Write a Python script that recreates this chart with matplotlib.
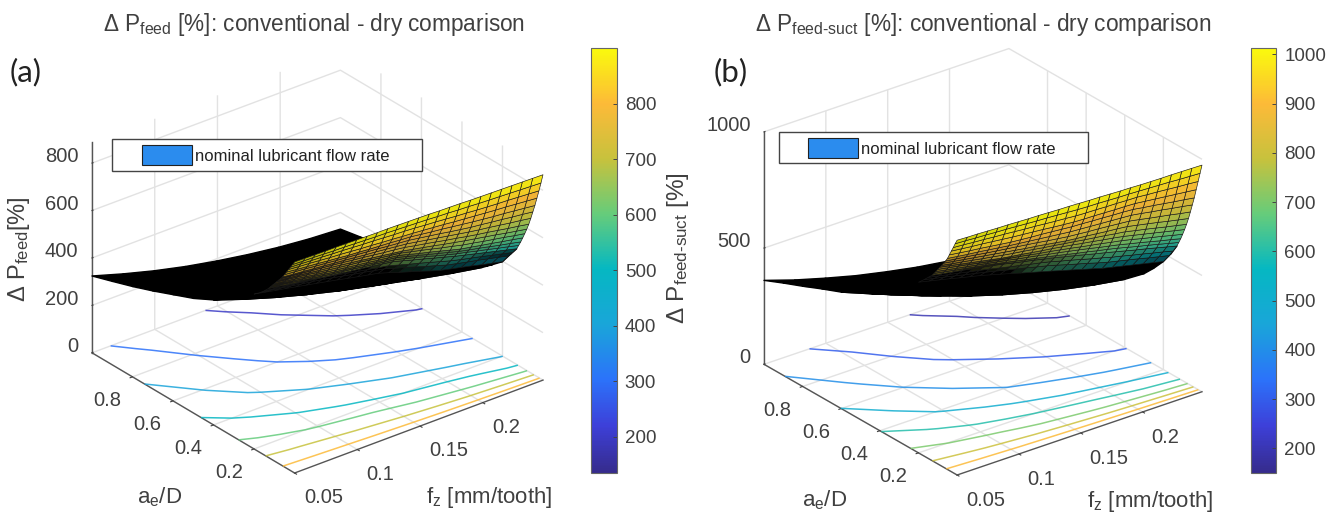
import numpy as np
import matplotlib
matplotlib.use("Agg")
import matplotlib.pyplot as plt
from matplotlib.colors import LinearSegmentedColormap, Normalize
from matplotlib.cm import ScalarMappable
from matplotlib.patches import Patch, Rectangle
from mpl_toolkits.mplot3d import proj3d

plt.rcParams['font.family'] = ['Liberation Sans', 'DejaVu Sans']
plt.rcParams['mathtext.fontset'] = 'custom'
plt.rcParams['mathtext.rm'] = 'Liberation Sans'
plt.rcParams['mathtext.default'] = 'regular'

# ---------- data ----------
fz_wall = [0.05, 0.05825, 0.0665, 0.07475, 0.083, 0.09125, 0.0995, 0.10775, 0.116, 0.12425, 0.1325, 0.14075, 0.149,
           0.15725, 0.1655, 0.17375, 0.182, 0.19025, 0.1985, 0.20675, 0.215, 0.22325, 0.2315, 0.23975, 0.248]
fz_coarse = [0.05, 0.07475, 0.0995, 0.12425, 0.149, 0.17375, 0.1985, 0.22325, 0.248]
ae_wall = [0.0, 0.01, 0.02, 0.03, 0.04, 0.05, 0.06, 0.07, 0.08, 0.09, 0.10, 0.11, 0.12, 0.13, 0.15, 0.17, 0.20]
ae_near = [0.0, 0.02, 0.04, 0.06, 0.08, 0.10]
ae_far = [0.13, 0.16, 0.20, 0.25, 0.30, 0.40, 0.50, 0.60, 0.70, 0.80, 0.90, 1.0]

pfeed_wall = [
 [890,889,888,887,887,886,885,884,883,883,882,881,880,879,877,876,875,873,872,871,870,869,868,867,866],
 [874,872,871,869,867,866,864,862,860,859,857,855,853,851,848,846,843,841,838,836,834,832,830,828,826],
 [858,856,853,851,848,846,843,840,838,835,832,830,827,823,820,816,812,809,805,802,799,797,794,791,788],
 [843,839,836,832,828,825,821,817,814,810,807,803,800,796,792,788,783,779,775,771,767,764,760,756,752],
 [827,822,818,814,809,805,800,797,793,790,787,783,780,774,768,763,757,751,745,740,735,731,726,721,716],
 [811,807,803,798,794,789,785,781,777,773,768,764,760,753,746,739,731,724,717,712,706,701,695,690,684],
 [796,791,787,782,778,773,769,764,759,755,750,745,740,732,724,716,708,700,692,685,679,672,665,659,652],
 [784,779,774,769,764,759,754,748,743,737,731,726,720,711,703,694,685,677,668,660,653,645,637,630,622],
 [772,766,761,755,749,744,738,732,726,719,713,706,700,691,682,673,663,654,645,637,629,621,612,604,596],
 [760,754,748,742,735,729,723,717,712,705,698,692,686,675,665,654,643,633,622,614,605,597,589,580,572],
 [748,741,735,728,721,715,708,702,696,690,683,677,671,659,647,636,624,612,600,592,583,575,566,558,549],
 [736,729,722,715,708,701,694,688,682,676,669,663,657,645,633,621,609,597,585,575,566,556,546,537,527],
 [724,717,710,702,695,688,681,675,669,662,656,649,643,631,619,607,594,582,570,560,549,539,528,518,507],
 [712,705,697,690,683,675,668,662,655,649,642,636,629,617,604,592,579,567,554,543,532,521,510,499,488],
 [692,686,679,673,666,660,653,645,636,627,619,610,602,589,576,564,551,538,525,514,504,494,483,473,462],
 [675,668,661,654,646,639,632,623,614,605,597,588,579,565,552,538,524,511,497,487,477,468,458,448,438],
 [653,644,635,627,618,609,600,591,582,572,563,554,545,531,516,502,488,473,459,449,439,429,418,408,398],
]
pfeed_near = [
 [890,887,884,881,878,875,872,869,866],
 [858,851,844,836,827,818,809,799,788],
 [827,818,808,796,783,768,752,735,716],
 [796,784,771,756,738,720,699,676,652],
 [772,758,741,723,702,679,653,626,596],
 [748,732,713,692,668,642,614,584,549],
]
pfeed_far = [
 [712,694,673,649,622,593,561,526,488],
 [683,663,640,615,587,556,524,488,450],
 [653,621,589,557,525,494,462,430,398],
 [617,579,543,509,476,444,415,386,360],
 [584,543,504,468,434,403,374,347,323],
 [527,481,440,403,369,339,313,292,274],
 [483,433,389,350,316,288,265,248,236],
 [448,397,352,312,278,249,227,210,198],
 [413,365,322,285,253,226,205,190,180],
 [381,336,296,261,231,206,187,172,163],
 [352,310,272,239,211,188,169,156,147],
 [324,284,248,217,191,169,151,138,130],
]
psuct_wall = [
 [1010,1008,1007,1005,1003,1002,1000,998,997,995,993,992,990,988,987,985,983,982,980,979,978,978,977,976,975],
 [990,988,985,983,980,978,975,972,969,967,964,961,958,956,955,953,951,950,948,946,944,942,939,937,935],
 [969,966,962,959,955,952,948,944,941,937,933,930,926,924,923,921,920,918,917,913,910,906,902,899,895],
 [949,944,939,935,930,925,920,916,912,908,903,899,895,893,892,890,888,887,885,880,875,870,865,860,855],
 [928,922,916,911,905,899,893,889,885,882,878,874,870,868,865,863,860,858,855,848,842,835,828,822,815],
 [908,902,896,891,885,879,873,868,863,858,853,848,843,840,837,834,831,828,825,818,810,803,795,788,780],
 [892,886,880,874,867,861,855,849,843,837,830,824,818,814,810,807,803,799,795,787,778,770,762,753,745],
 [878,871,864,857,850,843,836,829,822,816,809,802,795,790,786,781,776,772,767,758,749,740,730,721,712],
 [864,856,849,841,833,826,818,811,805,798,791,785,778,772,765,759,753,746,740,730,721,711,701,692,682],
 [851,843,834,826,817,809,800,793,787,780,773,767,760,753,745,738,730,723,715,705,695,685,675,665,655],
 [837,829,821,813,804,796,788,780,773,765,757,750,742,734,725,717,709,700,692,682,671,661,651,640,630],
 [823,815,807,799,791,783,775,767,758,750,742,733,725,716,707,698,688,679,670,659,649,638,627,617,606],
 [810,802,794,786,778,770,762,753,744,735,726,717,708,698,688,679,669,660,650,639,628,618,607,596,585],
 [797,789,781,774,766,758,750,741,731,722,713,703,694,683,673,662,651,641,630,619,608,598,587,576,565],
 [779,770,761,752,743,734,725,715,705,696,686,677,667,655,644,632,620,609,597,587,576,566,555,545,534],
 [760,750,741,731,721,712,702,692,681,671,661,650,640,628,615,603,591,578,566,556,546,536,525,515,505],
 [734,724,714,704,693,683,673,661,649,637,624,612,600,588,575,563,550,538,525,515,505,495,485,475,465],
]
psuct_near = [
 [1010,1006,1001,997,993,988,984,979,975],
 [969,961,953,945,936,926,916,906,895],
 [928,916,904,891,877,863,847,832,815],
 [892,877,861,844,826,807,787,767,745],
 [864,844,824,802,780,757,733,708,682],
 [837,813,789,764,739,712,686,658,630],
]
psuct_far = [
 [797,771,743,715,687,657,627,597,565],
 [770,741,712,681,650,618,586,552,518],
 [734,697,662,627,593,560,527,496,465],
 [692,649,609,570,534,500,469,439,412],
 [660,612,567,525,487,451,419,391,365],
 [595,541,491,446,406,371,340,314,293],
 [548,493,444,400,362,329,301,279,262],
 [501,449,402,360,324,292,266,244,228],
 [467,414,366,324,287,256,230,210,195],
 [431,380,335,296,262,233,210,192,180],
 [397,350,309,272,240,214,193,176,165],
 [361,318,281,247,219,194,175,160,150],
]
levels_a = [200, 300, 400, 500, 600, 700, 800]
levels_b = [200, 300, 400, 500, 600, 700, 800, 900]
fz_ticks = [0.05, 0.1, 0.15, 0.2]
fz_labels = ['0.05', '0.1', '0.15', '0.2']
ae_ticks = [0.2, 0.4, 0.6, 0.8]
ae_labels = ['0.2', '0.4', '0.6', '0.8']
pa_ticks = [0, 200, 400, 600, 800]
pb_ticks = [0, 500, 1000]
cba_ticks = [200, 300, 400, 500, 600, 700, 800]
cbb_ticks = [200, 300, 400, 500, 600, 700, 800, 900, 1000]
legend_label = 'nominal lubricant flow rate'

# ---------- style ----------
W, H = 1337, 516
parula = LinearSegmentedColormap.from_list('parula', [
    (0.00, (.21, .17, .55)), (0.11, (.24, .25, .85)), (0.22, (.17, .45, .98)),
    (0.35, (.10, .65, .85)), (0.48, (.02, .72, .76)), (0.61, (.40, .80, .48)),
    (0.74, (.78, .76, .24)), (0.87, (.99, .73, .22)), (1.00, (.98, .98, .05))])
INK = '#404040'
fig = plt.figure(figsize=(W / 100, H / 100), dpi=100, facecolor='white')


def fx(x):
    return x / W


def fy(y):
    return 1 - y / H


def fit_axes(ax, left, front):
    """Scale and shift the square axes so the floor corners land on the given pixels."""
    for _ in range(3):
        ax.apply_aspect()
        bb = ax.get_position()
        L, B, S = bb.x0 * W, bb.y0 * H, bb.width * W
        M = ax.get_proj()
        xl, yl, zl = ax.get_xlim3d(), ax.get_ylim3d(), ax.get_zlim3d()
        def disp(x, y, z):
            a, b, _z = proj3d.proj_transform(x, y, z, M)
            return ax.transData.transform((a, b))
        pl = disp(xl[0], yl[1], zl[0])
        pf = disp(xl[0], yl[0], zl[0])
        pr = disp(xl[1], yl[0], zl[0])
        s = (left[2] - left[0]) / (pr[0] - pl[0])
        S2 = S * s
        ax_l = (pl[0] - L) / S
        ax_f = (pf[1] - B) / S
        L2 = left[0] - ax_l * S2
        B2 = (H - front[1]) - ax_f * S2
        ax.set_position([L2 / W, B2 / H, S2 / W, S2 / H])


def wall_colors(Z, norm, kz, kv):
    """Face colours: dense mesh lines darken the cells that are seen at a grazing angle."""
    y = np.array(ae_wall)
    slope = (Z[:-1] - Z[1:]) / (y[1:] - y[:-1])[:, None]
    height = np.abs(slope * 0.01 * kz - 0.01 * kv)
    height = 0.5 * (height[:, :-1] + height[:, 1:])
    # the first corner of each cell sets its colour, as in a faceted surface
    rgba = parula(norm(Z[:-1, :-1] + 10))
    dark = np.clip((1.5 / np.maximum(height, 0.1)) ** 2, 0, 1)
    rgba[..., :3] *= (1 - dark)[..., None]
    full = np.zeros(Z.shape + (4,))
    full[:-1, :-1] = rgba
    return full


def panel(rect_corners, elev, azim, aspect, zmax, zticks, wall, near, far, levels, norm, cb_rect, cb_ticks,
          title, title_xy, zlabel, zlabel_xy, ae_xy, fz_xy, tag, tag_xy, box, leg_xy, zpad, zsize, kz, kv):
    ax = fig.add_axes([0.1, 0.1, 0.4, 0.4 * W / H], projection='3d', proj_type='ortho')
    ax.computed_zorder = False
    ax.patch.set_alpha(0)
    ax.view_init(elev=elev, azim=azim)
    ax.set_box_aspect(aspect)
    ax.set_xlim(fz_wall[0], fz_wall[-1], view_margin=0)
    ax.set_ylim(0, 1, view_margin=0)
    ax.set_zlim(0, zmax, view_margin=0)

    X, Y = np.meshgrid(fz_wall, ae_wall)
    Z = np.array(wall, float)
    Xf, Yf = np.meshgrid(fz_coarse, ae_far)
    Zf = np.array(far, float)

    ax.plot_surface(Xf, Yf, Zf, color='k', shade=False, rstride=1, cstride=1,
                    edgecolor='k', linewidth=1.0, zorder=2)
    ax.plot_surface(X, Y, Z, facecolors=wall_colors(Z, norm, kz, kv), shade=False, rstride=1, cstride=1,
                    edgecolor='#181818', linewidth=0.45, zorder=3)

    Xc, Yc = np.meshgrid(fz_coarse, ae_near + ae_far)
    Zc = np.vstack([np.array(near, float), Zf])
    ax.contour(Xc, Yc, Zc, levels=levels, zdir='z', offset=0, cmap=parula, norm=norm,
               linewidths=1.1, alpha=0.85, zorder=1)

    ax.set_xticks(fz_ticks, fz_labels)
    ax.set_yticks(ae_ticks, ae_labels)
    ax.set_zticks(zticks)
    for axis in (ax.xaxis, ax.yaxis, ax.zaxis):
        axis.set_pane_color((1, 1, 1, 0))
        axis.pane.set_edgecolor((1, 1, 1, 0))
        axis.line.set_color('#555555')
        axis.line.set_linewidth(1.0)
        axis._axinfo['grid'].update(color='#e2e2e2', linewidth=1.0)
        axis._axinfo['tick'].update(inward_factor=0.12, outward_factor=0.0, linewidth={True: 0.8, False: 0.5})
    ax.zaxis._axinfo['tick'].update(inward_factor=0.0, outward_factor=0.05)

    # the vertical axis stands on the left floor corner (low fz, high ae/D)
    xa, ya = fz_wall[0], 1.0

    def left_edge(minmax, maxmin, position=None):
        return np.array([xa, ya, 0.0]), np.array([xa, ya, float(zmax)])
    ax.zaxis._get_axis_line_edge_points = left_edge

    ax.tick_params(axis='both', labelsize=14.5, labelcolor=INK, colors=INK)
    ax.tick_params(axis='x', pad=0.5)
    ax.tick_params(axis='y', pad=0.5)
    ax.tick_params(axis='z', pad=zpad)
    for lab in ax.get_xticklabels():
        lab.set_ha('left')
    for lab in ax.get_yticklabels():
        lab.set_ha('right')
    for lab in ax.get_zticklabels():
        lab.set_ha('right')
        lab.set_va('baseline')

    fit_axes(ax, rect_corners[0], rect_corners[1])

    # texts
    fig.text(fx(title_xy[0]), fy(title_xy[1]), title, fontsize=16.3, color=INK, ha='center', va='center')
    fig.text(fx(zlabel_xy[0]), fy(zlabel_xy[1]), zlabel, fontsize=zsize, color=INK, rotation=90, ha='center', va='center')
    fig.text(fx(ae_xy[0]), fy(ae_xy[1]), '$a_e$/D', fontsize=16, color=INK, ha='center', va='center')
    fig.text(fx(fz_xy[0]), fy(fz_xy[1]), '$f_z$ [mm/tooth]', fontsize=16, color=INK, ha='center', va='center')
    fig.text(fx(tag_xy[0]), fy(tag_xy[1]), tag, fontsize=22.5, color='#222222', family='Lato', ha='center', va='center')

    # legend box
    x0, y0, x1, y1 = box
    fig.add_artist(Rectangle((fx(x0), fy(y1)), (x1 - x0) / W, (y1 - y0) / H, transform=fig.transFigure,
                             facecolor='white', edgecolor='#444444', linewidth=1.0, zorder=4))
    fig.legend(handles=[Patch(facecolor='#2b8cee', edgecolor='#222222', linewidth=0.8)], labels=[legend_label],
               loc='center', bbox_to_anchor=(fx(leg_xy[0]), fy(leg_xy[1])), frameon=False, fontsize=12,
               handlelength=3.0, handleheight=1.45, handletextpad=0.2, labelcolor='#222222').set_zorder(5)

    # colorbar
    cx0, cy0, cx1, cy1 = cb_rect
    cax = fig.add_axes([fx(cx0), fy(cy1), (cx1 - cx0) / W, (cy1 - cy0) / H])
    cb = fig.colorbar(ScalarMappable(norm=norm, cmap=parula), cax=cax, ticks=cb_ticks)
    cb.ax.tick_params(direction='in', length=3, width=0.7, color='#444444', labelsize=13.5, labelcolor=INK, pad=6)
    cb.outline.set_edgecolor('#666666')
    cb.outline.set_linewidth(0.8)
    return ax


panel(((92, 352, 543), (294.5, 473)), 28.1, -128.45, (317, 325.6, 238.6), 888, pa_ticks, pfeed_wall, pfeed_near, pfeed_far,
      levels_a, Normalize(135, 900), (591, 48, 616.5, 473), cba_ticks,
      'Δ P$_{feed}$ [%]: conventional - dry comparison', (314.5, 24),
      'Δ P$_{feed}$[%]', (19, 249), (160, 497), (489, 498), '(a)', (26, 72),
      (111.5, 139, 421.5, 171), (266, 155), -2.4, 17, 0.2365, 120)

panel(((764, 364, 1202), (957, 475)), 26.2, -127.6, (309, 316.4, 259), 1000, pb_ticks, psuct_wall, psuct_near, psuct_far,
      levels_b, Normalize(150, 1013), (1251, 48, 1276, 473), cbb_ticks,
      'Δ P$_{feed\\text{-}suct}$ [%]: conventional - dry comparison', (983.5, 24),
      'Δ P$_{feed\\text{-}suct}$ [%]', (678, 248), (825, 500), (1150, 502), '(b)', (731, 72),
      (778.5, 132, 1088, 163), (932, 148), -2.4, 17.5, 0.2324, 111)

fig.savefig('out.png', dpi=100)
